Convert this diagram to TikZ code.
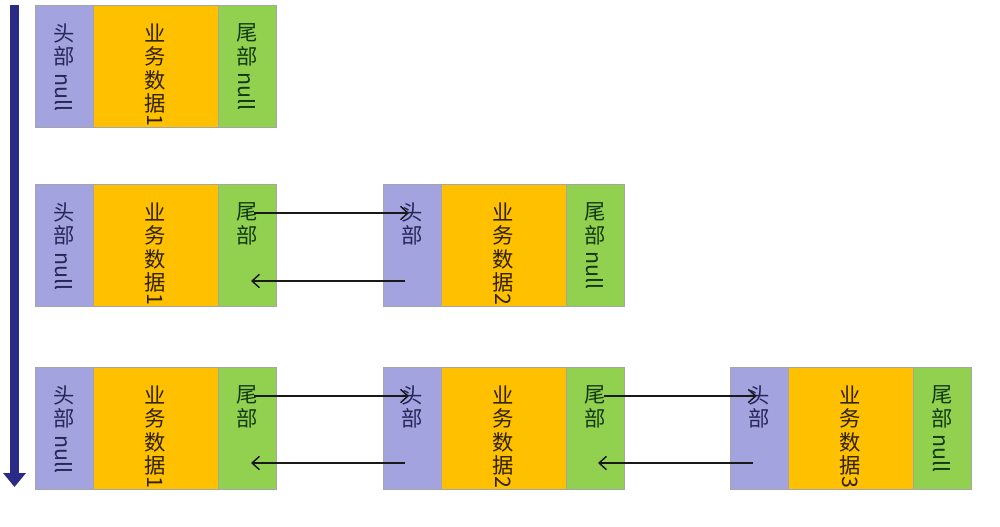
\documentclass[tikz,border=0pt]{standalone}
\usepackage{fontspec}
\setmainfont{Noto Sans CJK SC}
\usepackage{graphicx}
\usepackage{xcolor}
\usetikzlibrary{positioning}
\usetikzlibrary{arrows.meta}

\definecolor{headc}{RGB}{163,163,224}
\definecolor{datac}{RGB}{255,192,0}
\definecolor{tailc}{RGB}{146,208,80}
\definecolor{headt}{RGB}{38,38,88}
\definecolor{datat}{RGB}{48,34,0}
\definecolor{tailt}{RGB}{18,58,18}
\definecolor{cellline}{RGB}{166,166,166}
\definecolor{timec}{RGB}{42,42,135}

\newcommand{\rt}[2][0.7em]{\raisebox{#1}{\rotatebox{-90}{#2}}}

\tikzset{
  cell/.style={draw=cellline, line width=0.6pt, minimum height=91.5pt, inner sep=0pt, outer sep=0pt},
  txt/.style={anchor=north, yshift=-14pt, align=center, inner sep=0pt,
    font=\fontsize{16}{17.5}\selectfont},
  head/.style={cell, fill=headc, minimum width=43.5pt, label={[txt, text=headt]north:#1}},
  data/.style={cell, fill=datac, minimum width=93.75pt, label={[txt, text=datat]north:#1}},
  tail/.style={cell, fill=tailc, minimum width=43.5pt, label={[txt, text=tailt]north:#1}},
  link/.style={-{Straight Barb[length=5.5pt,width=10pt]}, line width=1.1pt, black!90},
  timeline/.style={-{Triangle[length=10.5pt,width=16.5pt]}, line width=6.75pt, timec}
}

\begin{document}
\begin{tikzpicture}[x=0.75pt, y=-0.75pt]
    \useasboundingbox (0,0) rectangle (1000,526);

    % time axis
    \coordinate (top) at (14.5,5);
    \coordinate (bot) at (14.5,487);
    \draw [timeline] (top) -- (bot);

    % row 1
    \node(h1) [head={头\\部\\\rt{null}}, anchor=north west] at (35,5) {};
    \node(d1) [data={业\\务\\数\\据\\\rt[1.05em]{1}}, right=0pt of h1] {};
    \node(t1) [tail={尾\\部\\\rt{null}}, right=0pt of d1] {};

    % row 2
    \node(h2a) [head={头\\部\\\rt{null}}, anchor=north west] at (35,184) {};
    \node(d2a) [data={业\\务\\数\\据\\\rt[1.05em]{1}}, right=0pt of h2a] {};
    \node(t2a) [tail={尾\\部}, right=0pt of d2a] {};
    \node(h2b) [head={头\\部}, right=80.25pt of t2a] {};
    \node(d2b) [data={业\\务\\数\\据\\\rt[1.05em]{2}}, right=0pt of h2b] {};
    \node(t2b) [tail={尾\\部\\\rt{null}}, right=0pt of d2b] {};

    % row 3
    \node(h3a) [head={头\\部\\\rt{null}}, anchor=north west] at (35,367) {};
    \node(d3a) [data={业\\务\\数\\据\\\rt[1.05em]{1}}, right=0pt of h3a] {};
    \node(t3a) [tail={尾\\部}, right=0pt of d3a] {};
    \node(h3b) [head={头\\部}, right=80.25pt of t3a] {};
    \node(d3b) [data={业\\务\\数\\据\\\rt[1.05em]{2}}, right=0pt of h3b] {};
    \node(t3b) [tail={尾\\部}, right=0pt of d3b] {};
    \node(h3c) [head={头\\部}, right=79.5pt of t3b] {};
    \node(d3c) [data={业\\务\\数\\据\\\rt[1.05em]{3}}, right=0pt of h3c] {};
    \node(t3c) [tail={尾\\部\\\rt{null}}, right=0pt of d3c] {};

    \draw [link] ([xshift=-16.5pt,yshift=-21.75pt]t2a.north east) -- ([xshift=19.5pt,yshift=-21.75pt]h2b.north west);
    \draw [link] ([xshift=16.5pt,yshift=18.75pt]h2b.south west) -- ([xshift=-18.75pt,yshift=18.75pt]t2a.south east);
    \draw [link] ([xshift=-16.5pt,yshift=-21.75pt]t3a.north east) -- ([xshift=19.5pt,yshift=-21.75pt]h3b.north west);
    \draw [link] ([xshift=16.5pt,yshift=19.5pt]h3b.south west) -- ([xshift=-18.75pt,yshift=19.5pt]t3a.south east);
    \draw [link] ([xshift=-15pt,yshift=-21.75pt]t3b.north east) -- ([xshift=20pt,yshift=-21.75pt]h3c.north west);
    \draw [link] ([xshift=17.25pt,yshift=19.5pt]h3c.south west) -- ([xshift=-19.5pt,yshift=19.5pt]t3b.south east);
\end{tikzpicture}
\end{document}
